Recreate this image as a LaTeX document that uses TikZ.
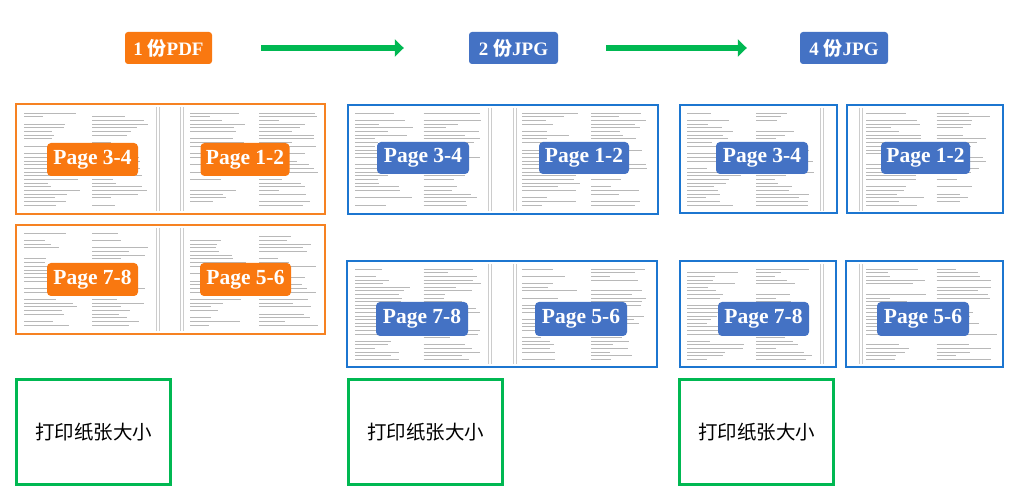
\documentclass[tikz,border=0pt]{standalone}
\usepackage{fontspec}
\setmainfont{Liberation Serif}
\newfontfamily\cjk{Noto Sans CJK SC}
\usetikzlibrary{arrows.meta}
\definecolor{orng}{RGB}{249,120,16}
\definecolor{orngfr}{RGB}{246,130,34}
\definecolor{bluelbl}{RGB}{68,114,196}
\definecolor{bluefr}{RGB}{28,118,208}
\definecolor{grn}{RGB}{0,184,82}
\tikzset{
  hdr/.style={rounded corners=3pt, text=white, inner sep=0pt,
    font=\bfseries\fontsize{19}{19}\selectfont, minimum height=32pt},
  pglbl/.style={rounded corners=4pt, text=white, inner sep=0pt,
    font=\bfseries\fontsize{21.5}{21.5}\selectfont, minimum height=33pt},
  ofr/.style={draw=orngfr, line width=2.4pt, inner sep=0pt},
  bfr/.style={draw=bluefr, line width=2pt, inner sep=0pt},
  gbox/.style={draw=grn, line width=2.8pt, inner sep=0pt,
    minimum width=154pt, minimum height=105pt,
    font=\cjk\fontsize{19.5}{20}\selectfont},
  garrow/.style={draw=grn, line width=6.5pt, -{Triangle[width=17pt,length=9pt]}},
  txtline/.style={draw=black!28, line width=0.55pt},
  gutter/.style={draw=black!20, line width=0.6pt}
}
% fake page of text: x0 y0 x1 y1
\newcommand\fakepage[4]{%
  \foreach \r in {0,...,25}{%
    \foreach \c in {0,1}{%
      \pgfmathsetmacro\colw{((#3)-(#1)-10)/2}%
      \pgfmathsetmacro\u{rnd}%
      \pgfmathsetmacro\len{\colw*(0.2+0.8*\u)}%
      \pgfmathsetmacro\xs{(#1)+\c*(\colw+10)}%
      \pgfmathsetmacro\ys{(#2)+\r*((#4)-(#2))/25}%
      \ifdim\u pt>0.15pt \draw[txtline] (\xs,\ys) -- ++(\len,0);\fi
    }%
  }%
}
\begin{document}
\begin{tikzpicture}[x=1pt,y=-1pt]
\pgfmathsetseed{7}
\fill[white] (0,0) rectangle (1015,502);
\useasboundingbox (0,0) rectangle (1015,502);

% headers
\node[hdr, fill=orng, minimum width=87pt] (h1) at (168.5,48) {1 {\cjk 份}PDF};
\node[hdr, fill=bluelbl, minimum width=89pt] (h2) at (513.5,48) {2 {\cjk 份}JPG};
\node[hdr, fill=bluelbl, minimum width=88pt] (h3) at (844,48) {4 {\cjk 份}JPG};
\draw[garrow] ([xshift=49pt]h1.east) -- ([xshift=-65pt]h2.west);
\draw[garrow] ([xshift=48pt]h2.east) -- ([xshift=-53pt]h3.west);

% ---------- textures ----------
% column 1
\fakepage{24}{113}{150}{205}
\fakepage{190}{113}{318}{205}
\fakepage{24}{233}{150}{325}
\fakepage{190}{233}{318}{325}
\foreach \x in {156,159,180,183}{\draw[gutter] (\x,107) -- (\x,211); \draw[gutter] (\x,228) -- (\x,331);}
% column 2
\fakepage{355}{113}{482}{205}
\fakepage{522}{113}{650}{205}
\fakepage{355}{269}{482}{359}
\fakepage{522}{269}{650}{359}
\foreach \x in {488,491,513,516}{\draw[gutter] (\x,108) -- (\x,211); \draw[gutter] (\x,264) -- (\x,364);}
% column 3
\fakepage{687}{113}{815}{205}
\fakepage{866}{113}{997}{205}
\fakepage{687}{269}{815}{359}
\fakepage{866}{269}{997}{359}
\foreach \x in {820,823}{\draw[gutter] (\x,108) -- (\x,211); \draw[gutter] (\x,264) -- (\x,364);}
\foreach \x in {859,862}{\draw[gutter] (\x,108) -- (\x,211); \draw[gutter] (\x,264) -- (\x,364);}

% ---------- frames ----------
\node[ofr, minimum width=309pt, minimum height=110pt] (f1a) at (170.5,159) {};
\node[ofr, minimum width=309pt, minimum height=109pt] (f1b) at (170.5,279.5) {};
\node[bfr, minimum width=310pt, minimum height=109pt] (f2a) at (503,159.5) {};
\node[bfr, minimum width=310pt, minimum height=106pt] (f2b) at (502,314) {};
\node[bfr, minimum width=157pt, minimum height=108pt] (f3a) at (758.5,159) {};
\node[bfr, minimum width=156pt, minimum height=108pt] (f3b) at (925,159) {};
\node[bfr, minimum width=156pt, minimum height=106pt] (f3c) at (758,314) {};
\node[bfr, minimum width=157pt, minimum height=106pt] (f3d) at (924.5,314) {};

% ---------- page labels ----------
\node[pglbl, fill=orng, minimum width=91pt] (a34) at (92.5,159.5) {Page 3-4};
\node[pglbl, fill=orng, minimum width=89pt] (a12) at (245,159.5) {Page 1-2};
\node[pglbl, fill=orng, minimum width=91pt] (a78) at (92.5,279.5) {Page 7-8};
\node[pglbl, fill=orng, minimum width=91pt] (a56) at (245.5,279.5) {Page 5-6};

\node[pglbl, fill=bluelbl, minimum width=92pt, minimum height=32pt] (b34) at (423,158) {Page 3-4};
\node[pglbl, fill=bluelbl, minimum width=90pt, minimum height=32pt] (b12) at (584,158) {Page 1-2};
\node[pglbl, fill=bluelbl, minimum width=92pt, minimum height=34pt] (b78) at (422,319) {Page 7-8};
\node[pglbl, fill=bluelbl, minimum width=92pt, minimum height=34pt] (b56) at (581,319) {Page 5-6};

\node[pglbl, fill=bluelbl, minimum width=92pt, minimum height=32pt] (c34) at (762,158) {Page 3-4};
\node[pglbl, fill=bluelbl, minimum width=89pt, minimum height=32pt] (c12) at (925.5,158) {Page 1-2};
\node[pglbl, fill=bluelbl, minimum width=91pt, minimum height=34pt] (c78) at (763.5,319) {Page 7-8};
\node[pglbl, fill=bluelbl, minimum width=92pt, minimum height=34pt] (c56) at (923,319) {Page 5-6};

% ---------- paper size boxes ----------
\node[gbox] (g1) at (93.5,432) {打印纸张大小};
\node[gbox] (g2) at (425.5,432) {打印纸张大小};
\node[gbox] (g3) at (756.5,432) {打印纸张大小};
\end{tikzpicture}
\end{document}
